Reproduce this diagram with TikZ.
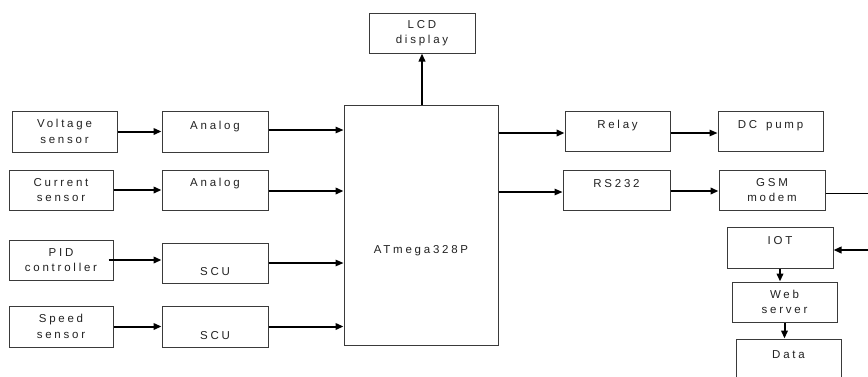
\documentclass[tikz,border=0pt]{standalone}
\usepackage{fontspec}
\setmainfont{Liberation Sans}[LetterSpace=24]
\usetikzlibrary{arrows.meta}
\definecolor{boxc}{HTML}{3A3A3A}
\definecolor{txtc}{HTML}{222222}
\begin{document}
\begin{tikzpicture}[x=1pt,y=-1pt,
  box/.style={draw=boxc,line width=1pt,rectangle,inner sep=0pt},
  txt/.style={text=txtc,font=\fontsize{11.5}{15.5}\selectfont,align=center,inner sep=0pt},
  arr/.style={line width=2pt,-{Triangle[length=8pt,width=6.5pt]}},
  thinarr/.style={line width=1.4pt,-{Triangle[length=8pt,width=6.5pt]}}]
\useasboundingbox[fill=white] (0,0) rectangle (868,376);
\newcommand\bx[5]{\node[box,minimum width={#4-#2},minimum height={#5-#3}] (#1) at ({(#2+#4)/2},{(#3+#5)/2}) {};}
% left column
\bx{vs}{12}{111}{117}{152}
\bx{cs}{9}{170}{113}{210}
\bx{pid}{9}{240}{113}{280}
\bx{ss}{9}{306}{113}{347}
% second column
\bx{an1}{162}{111}{268}{152}
\bx{an2}{162}{170}{268}{210}
\bx{scu1}{162}{243}{268}{283}
\bx{scu2}{162}{306}{268}{347}
% controller
\bx{at}{344}{105}{498}{345}
\bx{lcd}{369}{13}{475}{53}
% right side
\bx{rel}{565}{111}{670}{151}
\bx{dc}{718}{111}{823}{151}
\bx{rs}{563}{170}{670}{210}
\bx{gsm}{719}{170}{825}{210}
\bx{iot}{727}{227}{833}{268}
\bx{web}{732}{282}{837}{322}
\bx{dat}{736}{339}{841}{390}
% texts
\node[txt] (tvs) at (vs.center) {Voltage\\sensor};
\node[txt] (tcs) at (cs.center) {Current\\sensor};
\node[txt] (tpid) at (pid.center) {PID\\controller};
\node[txt] (tss) at (ss.center) {Speed\\sensor};
\node[txt] (tan1) at ([yshift=4.5pt]an1.center) {Analog};
\node[txt] (tan2) at ([yshift=6pt]an2.center) {Analog};
\node[txt] (tscu1) at ([yshift=-9pt]scu1.center) {SCU};
\node[txt] (tscu2) at ([yshift=-9pt]scu2.center) {SCU};
\node[txt] (tat) at (421,251) {ATmega328P};
\node[txt] (tlcd) at (lcd.center) {LCD\\display};
\node[txt] (trel) at ([yshift=5pt]rel.center) {Relay};
\node[txt] (tdc) at ([yshift=5pt]dc.center) {DC\hspace{3pt} pump};
\node[txt] (trs) at ([yshift=6pt]rs.center) {RS232};
\node[txt] (tgsm) at (gsm.center) {GSM\\modem};
\node[txt] (tiot) at ([yshift=7pt]iot.center) {IOT};
\node[txt] (tweb) at (web.center) {Web\\server};
\node[txt] (tdat) at (788.5,355) {Data};
% connectors
\coordinate (edge) at (868,0);
\draw[arr] (vs.east) -- (an1.west);
\draw[arr] (cs.east) -- (an2.west);
\draw[arr] ([xshift=-5pt]pid.east) -- (pid.east -| scu1.west);
\draw[arr] (ss.east) -- (ss.east -| scu2.west);
\draw[thinarr] ([yshift=1.5pt]an1.east) -- ([yshift=1.5pt]an1.east -| at.west);
\draw[arr] ([yshift=-1pt]an2.east) -- ([yshift=-1pt]an2.east -| at.west);
\draw[thinarr] (scu1.east) -- (scu1.east -| at.west);
\draw[arr] (scu2.east) -- (scu2.east -| at.west);
\draw[arr] (lcd.south |- at.north) -- (lcd.south);
\draw[arr] ([yshift=-2pt]rel.west -| at.east) -- ([yshift=-2pt]rel.west);
\draw[thinarr] ([yshift=-2pt]rs.west -| at.east) -- ([yshift=-2pt]rs.west);
\draw[thinarr] ([yshift=-2pt]rel.east) -- ([yshift=-2pt]rel.east -| dc.west);
\draw[arr] ([yshift=-1pt]rs.east) -- ([yshift=-1pt]rs.east -| gsm.west);
\draw[line width=0.9pt] ([yshift=-3pt]gsm.east) -- ([yshift=-3pt]gsm.east -| edge);
\draw[arr] ([yshift=-2.5pt]iot.east -| edge) -- ([yshift=-2.5pt]iot.east);
\draw[arr] (iot.south) -- (iot.south |- web.north);
\draw[arr] (web.south) -- (web.south |- dat.north);
\end{tikzpicture}
\end{document}
